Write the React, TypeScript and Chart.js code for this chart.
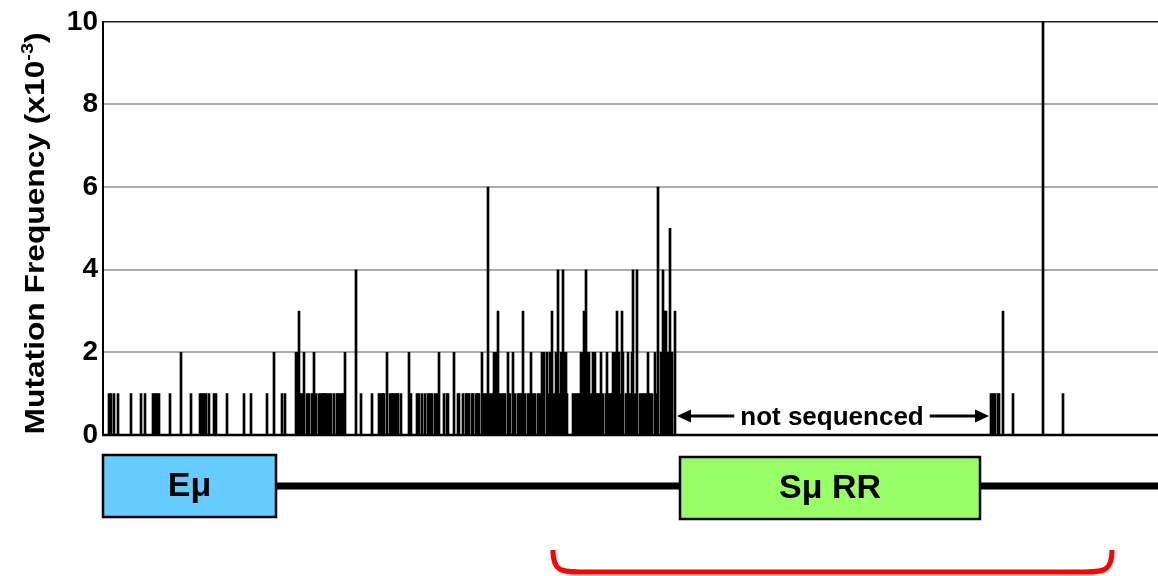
import React, { useEffect, useRef } from "react";
import { Chart, registerables } from "chart.js";

Chart.register(...registerables);

// Position along the sequenced region (arbitrary units, 0 = left edge of plot)
const sitePositions = [
  6, 8, 11, 15, 28, 38, 42, 50, 52, 54, 56, 67, 78, 88, 97, 99, 101, 103, 106, 111, 113, 124, 141, 148, 164, 171, 179, 182,
  193, 194, 196, 197, 199, 201, 204, 206, 209, 210, 211, 213, 216, 218, 220, 221, 222, 224, 226, 228, 231, 234, 235, 237, 239, 240, 242,
  253, 258, 269, 276, 278, 280, 281, 284, 287, 289, 290, 292, 294, 295, 298, 306, 308, 314, 316,
  319, 322, 325, 327, 329, 332, 334, 336, 341, 344, 345, 351, 355, 356, 360, 363, 365, 366, 369, 370, 373, 375, 376, 379, 381, 383,
  385, 387, 389, 391, 393, 395, 396, 398, 400, 402, 405, 407, 410, 412, 415, 417, 418, 420, 422, 425, 427, 428, 430, 432, 435, 437, 439,
  441, 444, 446, 447, 449, 451, 453, 455, 457, 458, 460, 461, 463, 464,
  470, 472, 474, 476, 478, 480, 481, 483, 485, 486, 488, 490, 492, 494, 495, 497, 498, 500, 503, 504, 506, 508, 510, 512, 514, 516, 517,
  519, 520, 523, 525, 527, 529, 530, 532, 534, 537, 539, 541, 543, 545, 547, 549, 552, 553, 555, 558, 560, 561, 563, 565, 567, 569, 572,
  888, 890, 892, 895, 896, 900, 910, 940, 960,
];

// Mutation frequency (x10^-3) at each site
const mutationFrequency = [
  1, 1, 1, 1, 1, 1, 1, 1, 1, 1, 1, 1, 2, 1, 1, 1, 1, 1, 1, 1, 1, 1, 1, 1, 1, 2, 1, 1,
  2, 2, 3, 1, 1, 2, 1, 1, 1, 1, 2, 1, 1, 1, 1, 1, 1, 1, 1, 1, 1, 1, 1, 1, 1, 1, 2,
  4, 1, 1, 1, 1, 1, 1, 2, 1, 1, 1, 1, 1, 1, 1, 2, 1, 1, 1,
  1, 1, 1, 1, 1, 1, 1, 2, 1, 1, 1, 2, 1, 1, 1, 1, 1, 1, 1, 1, 1, 1, 1, 2, 1, 1,
  6, 1, 1, 2, 2, 3, 1, 1, 1, 1, 2, 1, 2, 1, 1, 1, 1, 3, 1, 1, 1, 2, 1, 1, 1, 1, 2,
  2, 2, 1, 2, 3, 1, 2, 4, 1, 2, 4, 2, 2, 1,
  1, 1, 1, 1, 2, 2, 3, 4, 2, 2, 1, 2, 2, 1, 1, 1, 2, 1, 1, 2, 1, 1, 2, 2, 3, 2, 1,
  3, 2, 1, 2, 1, 2, 4, 1, 4, 1, 1, 1, 1, 2, 1, 1, 2, 1, 6, 2, 4, 3, 3, 2, 5, 2, 3,
  1, 1, 1, 1, 1, 3, 1, 10, 1,
];

const xMin = 0;
const xMax = 1055;
const yTickValues = [0, 2, 4, 6, 8, 10];

const yTitleMain = "Mutation Frequency (x10";
const yTitleSup = "-3";
const yTitleEnd = ")";

const regionLabels = ["Eμ", "Sμ RR"];
const regionStarts = [0, 577];
const regionEnds = [173, 877];
const regionColors = ["#66CCFF", "#99FF66"];

const notSequencedLabel = "not sequenced";
const notSequencedRange = [574, 886];
const braceRange = [448, 1011];

const FONT = "Arial, 'Liberation Sans', Helvetica, sans-serif";

export default function App() {
  const canvasRef = useRef<HTMLCanvasElement | null>(null);

  useEffect(() => {
    document.body.style.margin = "0";
    const canvas = canvasRef.current;
    if (!canvas) return;

    const drawArrow = (ctx: CanvasRenderingContext2D, x0: number, x1: number, y: number) => {
      const dir = x1 > x0 ? 1 : -1;
      const headLen = 14;
      const headHalf = 6.5;
      ctx.beginPath();
      ctx.moveTo(x0, y);
      ctx.lineTo(x1 - dir * headLen, y);
      ctx.lineWidth = 3;
      ctx.strokeStyle = "#000";
      ctx.stroke();
      ctx.beginPath();
      ctx.moveTo(x1, y);
      ctx.lineTo(x1 - dir * headLen, y - headHalf);
      ctx.lineTo(x1 - dir * headLen, y + headHalf);
      ctx.closePath();
      ctx.fillStyle = "#000";
      ctx.fill();
    };

    const diagramPlugin = {
      id: "diagram",
      afterDatasetsDraw(chart: any) {
        const { ctx, chartArea, scales } = chart;
        const yS = scales.y;
        const y0 = yS.getPixelForValue(0);
        ctx.save();
        ctx.strokeStyle = "#000";
        ctx.lineWidth = 2.5;
        ctx.beginPath();
        ctx.moveTo(chartArea.left - 1, y0);
        ctx.lineTo(chartArea.right, y0);
        ctx.stroke();
        ctx.restore();
      },
      afterDraw(chart: any) {
        const { ctx, chartArea, scales } = chart;
        const xS = scales.x;
        const yS = scales.y;
        const bottom = chartArea.bottom;
        ctx.save();

        // Y axis title with superscript, rotated
        {
          const mainFont = `bold 27px ${FONT}`;
          const supFont = `bold 17px ${FONT}`;
          ctx.font = mainFont;
          const w1 = ctx.measureText(yTitleMain).width;
          const w3 = ctx.measureText(yTitleEnd).width;
          ctx.font = supFont;
          const w2 = ctx.measureText(yTitleSup).width;
          const total = w1 + w2 + w3;
          const target = 402;
          const s = target / total;
          const cy = (chartArea.top + chartArea.bottom) / 2 + 5;
          ctx.save();
          ctx.translate(44, cy);
          ctx.rotate(-Math.PI / 2);
          ctx.scale(s, 1);
          ctx.fillStyle = "#000";
          ctx.textAlign = "left";
          ctx.textBaseline = "alphabetic";
          let x = -total / 2;
          ctx.font = mainFont;
          ctx.fillText(yTitleMain, x, 0);
          x += w1;
          ctx.font = supFont;
          ctx.fillText(yTitleSup, x, -11);
          x += w2;
          ctx.font = mainFont;
          ctx.fillText(yTitleEnd, x, 0);
          ctx.restore();
        }

        // "not sequenced" annotation
        {
          const ay = yS.getPixelForValue(0) - 19;
          const xa = xS.getPixelForValue(notSequencedRange[0]);
          const xb = xS.getPixelForValue(notSequencedRange[1]);
          ctx.font = `bold 26px ${FONT}`;
          const tw = ctx.measureText(notSequencedLabel).width;
          const cx = (xa + xb) / 2 - 1;
          const gap = 6;
          drawArrow(ctx, cx - tw / 2 - gap, xa, ay);
          drawArrow(ctx, cx + tw / 2 + gap, xb, ay);
          ctx.fillStyle = "#000";
          ctx.textAlign = "center";
          ctx.textBaseline = "alphabetic";
          ctx.fillText(notSequencedLabel, cx, ay + 9);
        }

        // Gene diagram line
        const lineY = bottom + 51;
        ctx.beginPath();
        ctx.moveTo(xS.getPixelForValue(regionEnds[0]), lineY);
        ctx.lineTo(chart.width, lineY);
        ctx.lineWidth = 7;
        ctx.strokeStyle = "#000";
        ctx.stroke();

        // Region boxes
        const boxTops = [bottom + 20, bottom + 22];
        const boxH = 62;
        for (let i = 0; i < regionLabels.length; i++) {
          const bx0 = xS.getPixelForValue(regionStarts[i]);
          const bx1 = xS.getPixelForValue(regionEnds[i]);
          const by = boxTops[i];
          ctx.fillStyle = regionColors[i];
          ctx.fillRect(bx0, by, bx1 - bx0, boxH);
          ctx.lineWidth = 2.5;
          ctx.strokeStyle = "#000";
          ctx.strokeRect(bx0, by, bx1 - bx0, boxH);
          ctx.fillStyle = "#000";
          ctx.font = `bold 34px ${FONT}`;
          ctx.textAlign = "center";
          ctx.textBaseline = "middle";
          ctx.fillText(regionLabels[i], (bx0 + bx1) / 2, by + boxH / 2 + 1);
        }

        // Red brace
        {
          const L = xS.getPixelForValue(braceRange[0]) + 2;
          const R = xS.getPixelForValue(braceRange[1]) - 2;
          const top = bottom + 115;
          const bot = bottom + 137;
          ctx.beginPath();
          ctx.moveTo(L, top);
          ctx.bezierCurveTo(L, bot, L + 8, bot, L + 32, bot);
          ctx.lineTo(R - 32, bot);
          ctx.bezierCurveTo(R - 8, bot, R, bot, R, top);
          ctx.lineWidth = 5;
          ctx.strokeStyle = "#FF0000";
          ctx.stroke();
        }

        ctx.restore();
      },
    };

    const data = sitePositions.map((p, i) => ({ x: p, y: mutationFrequency[i] }));

    const chart = new Chart(canvas, {
      type: "bar",
      data: {
        datasets: [
          {
            label: "Mutation frequency",
            data,
            backgroundColor: "#000",
            borderWidth: 0,
            barThickness: 2,
          },
        ],
      },
      options: {
        animation: false,
        responsive: true,
        maintainAspectRatio: false,
        layout: { padding: { top: 20, bottom: 141, left: 0, right: 0 } },
        plugins: { legend: { display: false }, tooltip: { enabled: false } },
        scales: {
          x: {
            type: "linear",
            min: xMin,
            max: xMax,
            offset: false,
            display: false,
            grid: { display: false },
          },
          y: {
            min: 0,
            max: 10,
            afterFit: (scale: any) => {
              scale.width = 103;
            },
            afterBuildTicks: (scale: any) => {
              scale.ticks = yTickValues.map((v) => ({ value: v }));
            },
            ticks: {
              stepSize: 2,
              padding: 5,
              color: "#000",
              font: { family: FONT, size: 28, weight: "bold" },
              callback: (v: any) => String(v),
            },
            grid: {
              drawTicks: false,
              lineWidth: (c: any) => (c.tick && c.tick.value === 10 ? 1.5 : 2),
              color: (c: any) => {
                const v = c.tick ? c.tick.value : null;
                if (v === 0) return "rgba(0,0,0,0)";
                if (v === 10) return "#222";
                return "#ababab";
              },
            },
            border: { display: true, color: "#000", width: 2 },
          },
        },
      },
      plugins: [diagramPlugin],
    });

    return () => chart.destroy();
  }, []);

  return (
    <div style={{ width: "1158px", height: "576px", position: "relative", background: "#fff" }}>
      <canvas ref={canvasRef} />
    </div>
  );
}
